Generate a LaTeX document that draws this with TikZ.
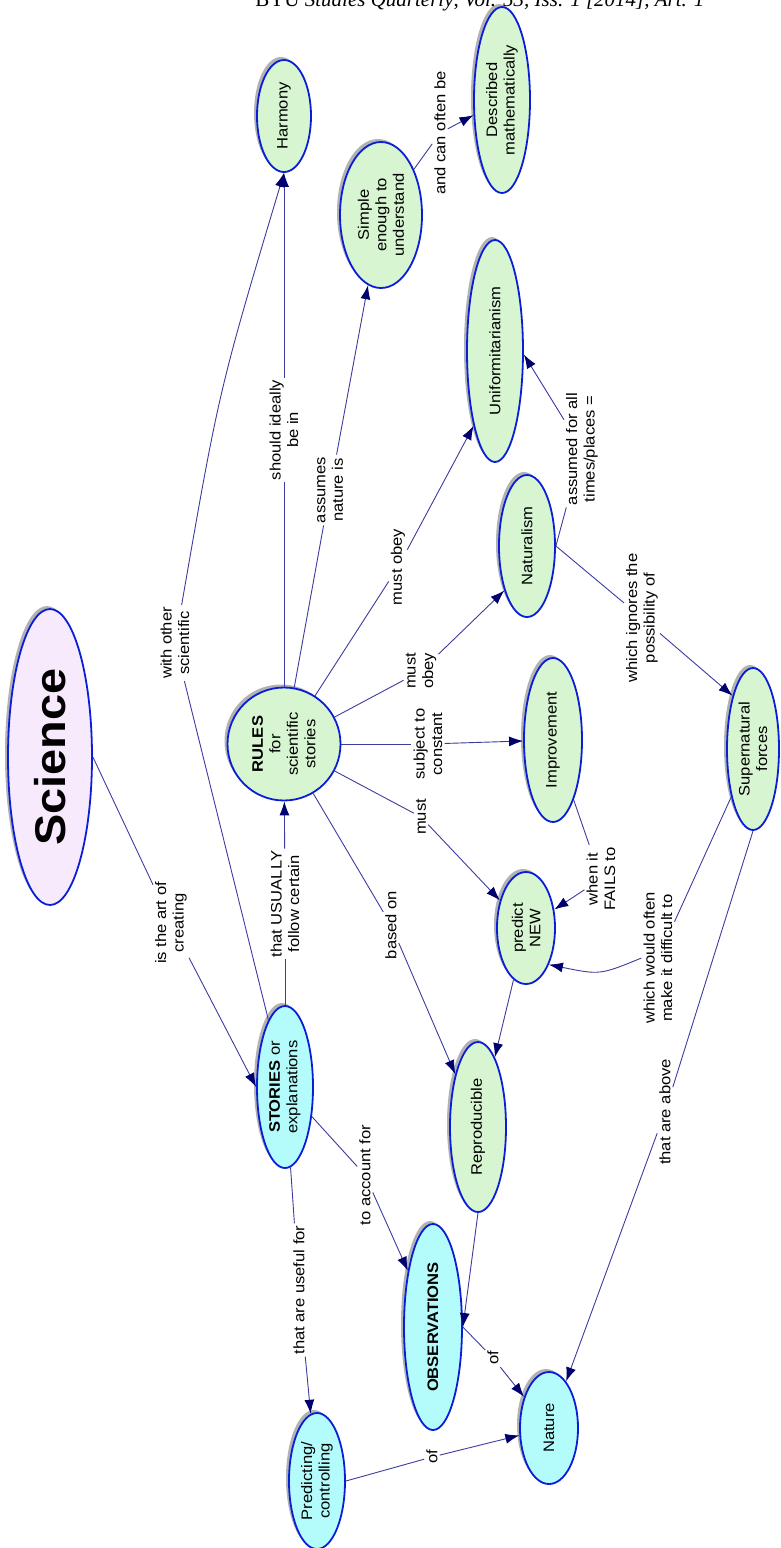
\documentclass[tikz,border=0pt]{standalone}
\usepackage{fontspec}
\setmainfont{Liberation Sans}[FakeStretch = 1.09]
\newfontfamily\headfont{Liberation Serif}
\usetikzlibrary{shapes.geometric, shadows, arrows.meta}

\definecolor{rimblue}{RGB}{10,30,215}
\definecolor{linkblue}{RGB}{60,60,160}
\definecolor{tipnavy}{RGB}{0,0,110}
\definecolor{leafgreen}{RGB}{214,245,208}
\definecolor{skycyan}{RGB}{180,252,252}
\definecolor{lilac}{RGB}{246,234,252}

\newcommand{\mapfont}{\fontsize{15.2}{17.5}\selectfont}

\tikzset{
	concept/.style = {draw = rimblue, line width = 1.8pt, shape = ellipse, rotate = 90,
		inner sep = 0pt, align = center, font = \mapfont,
		drop shadow = {shadow xshift = -3pt, shadow yshift = 3pt, opacity = 0.3, fill = black}},
	green concept/.style = {concept, fill = leafgreen},
	cyan concept/.style = {concept, fill = skycyan},
	link label/.style = {rotate = 90, fill = white, align = center, inner sep = 2pt, font = \mapfont},
	link/.style = {draw = linkblue, line width = 0.9pt},
	arrow/.style = {link, -{Latex[length = 14pt, width = 10pt, color = tipnavy]}}
}

\begin{document}
\begin{tikzpicture}[x = 1pt, y = -1pt]

	\useasboundingbox (0,0) rectangle (780,1548);

	\draw (708,6) node[anchor = base east,
					   font = \headfont\fontsize{21}{24}\selectfont] (head)
		{BYU \textit{Studies Quarterly}, \textit{Vol. 53, Iss. 1 [2014], Art. 1}};

	\draw (50,757) node[concept,
					   fill = lilac,
					   minimum width = 296pt,
					   minimum height = 84pt,
					   font = \bfseries\fontsize{43}{50}\selectfont] (sci) {Science};

	\draw (284,116) node[green concept, minimum width = 112pt, minimum height = 54pt] (harmony) {Harmony};
	\draw (381,215) node[green concept, minimum width = 146pt, minimum height = 82pt] (simple) {Simple\\enough to\\understand};
	\draw (502,100) node[green concept, minimum width = 186pt, minimum height = 56pt] (described) {Described\\mathematically};
	\draw (495,351) node[green concept, minimum width = 222pt, minimum height = 56pt] (uniform) {Uniformitarianism};
	\draw (527,546) node[green concept, minimum width = 142pt, minimum height = 56pt] (naturalism) {Naturalism};
	\draw (284,744) node[green concept, minimum width = 113pt, minimum height = 113pt] (rules) {\textbf{RULES}\\for\\scientific\\stories};
	\draw (553,740) node[green concept, minimum width = 164pt, minimum height = 58pt] (improvement) {Improvement};
	\draw (753,749) node[green concept, minimum width = 162pt, minimum height = 52pt] (supernatural) {Supernatural\\forces};
	\draw (526,928) node[green concept, minimum width = 112pt, minimum height = 58pt] (predict) {predict\\NEW};
	\draw (285,1087) node[cyan concept, minimum width = 162pt, minimum height = 56pt] (stories) {\textbf{STORIES} or\\explanations};
	\draw (478,1127) node[green concept, minimum width = 170pt, minimum height = 56pt] (reproducible) {Reproducible};
	\draw (433,1327) node[cyan concept, minimum width = 206pt, minimum height = 58pt] (observations) {\textbf{OBSERVATIONS}};
	\draw (549,1428) node[cyan concept, minimum width = 112pt, minimum height = 58pt] (nature) {Nature};
	\draw (317,1481) node[cyan concept, minimum width = 136pt, minimum height = 56pt] (predicting) {Predicting/\\controlling};

	\draw (171,923) node[link label] (art) {is the art of\\creating};
	\draw (175,643) node[link label] (withother) {with other\\scientific};
	\draw (284,430) node[link label] (ideally) {should ideally\\be in};
	\draw (330,490) node[link label] (assumes) {assumes\\nature is};
	\draw (398,567) node[link label] (obeyone) {must obey};
	\draw (421,671) node[link label] (obeytwo) {must\\obey};
	\draw (428,744) node[link label] (subject) {subject to\\constant};
	\draw (421,817) node[link label] (must) {must};
	\draw (285,904) node[link label] (usually) {that USUALLY\\follow certain};
	\draw (391,925) node[link label] (basedon) {based on};
	\draw (440,133) node[link label] (canoften) {and can often be};
	\draw (582,449) node[link label] (alltimes) {assumed for all\\times/places =};
	\draw (642,618) node[link label] (ignores) {which ignores the\\possibility of};
	\draw (601,879) node[link label] (fails) {when it\\FAILS to};
	\draw (658,958) node[link label] (difficult) {which would often\\make it difficult to};
	\draw (665,1112) node[link label] (above) {that are above};
	\draw (365,1175) node[link label] (account) {to account for};
	\draw (299,1290) node[link label] (useful) {that are useful for};
	\draw (493,1358) node[link label] (ofone) {of};
	\draw (432,1457) node[link label] (oftwo) {of};

	\draw[link] (sci.south) -- (art);
	\draw[arrow] (art) -- (stories.north);
	\draw[link] (stories) -- (withother);
	\draw[arrow] (withother) .. controls (219,390) .. (harmony.west);
	\draw[link] (rules) -- (ideally);
	\draw[arrow] (ideally) -- (harmony);
	\draw[link] (rules) -- (assumes);
	\draw[arrow] (assumes) -- (simple);
	\draw[link] (simple) -- (canoften);
	\draw[arrow] (canoften) -- (described);
	\draw[link] (rules) -- (obeyone);
	\draw[arrow] (obeyone) -- (uniform.164);
	\draw[link] (rules) -- (obeytwo);
	\draw[arrow] (obeytwo) -- (naturalism.153);
	\draw[link] (rules) -- (subject);
	\draw[arrow] (subject) -- (improvement);
	\draw[link] (rules) -- (must);
	\draw[arrow] (must) -- (predict);
	\draw[link] (rules) -- (basedon);
	\draw[arrow] (basedon) -- (reproducible);
	\draw[link] (stories) -- (usually);
	\draw[arrow] (usually) -- (rules);
	\draw[link] (naturalism.south) -- (alltimes);
	\draw[arrow] (alltimes) -- (uniform.263);
	\draw[link] (naturalism.south) -- (ignores);
	\draw[arrow] (ignores) -- (supernatural.21);
	\draw[link] (improvement) -- (fails);
	\draw[arrow] (fails) -- (predict);
	\draw[link] (supernatural) -- (difficult);
	\draw[arrow] (difficult.north) .. controls (600,975) .. (predict.212);
	\draw[link] (supernatural.west) -- (above);
	\draw[arrow] (above) -- (nature);
	\draw[arrow] (predict) -- (reproducible);
	\draw[link] (stories) -- (account);
	\draw[arrow] (account) -- (observations);
	\draw[link] (stories) -- (useful);
	\draw[arrow] (useful) -- (predicting);
	\draw[arrow] (reproducible.west) -- (observations.south);
	\draw[link] (observations.south) -- (ofone);
	\draw[arrow] (ofone) -- (nature);
	\draw[link] (predicting.south) -- (oftwo);
	\draw[arrow] (oftwo) -- (nature);

\end{tikzpicture}
\end{document}
